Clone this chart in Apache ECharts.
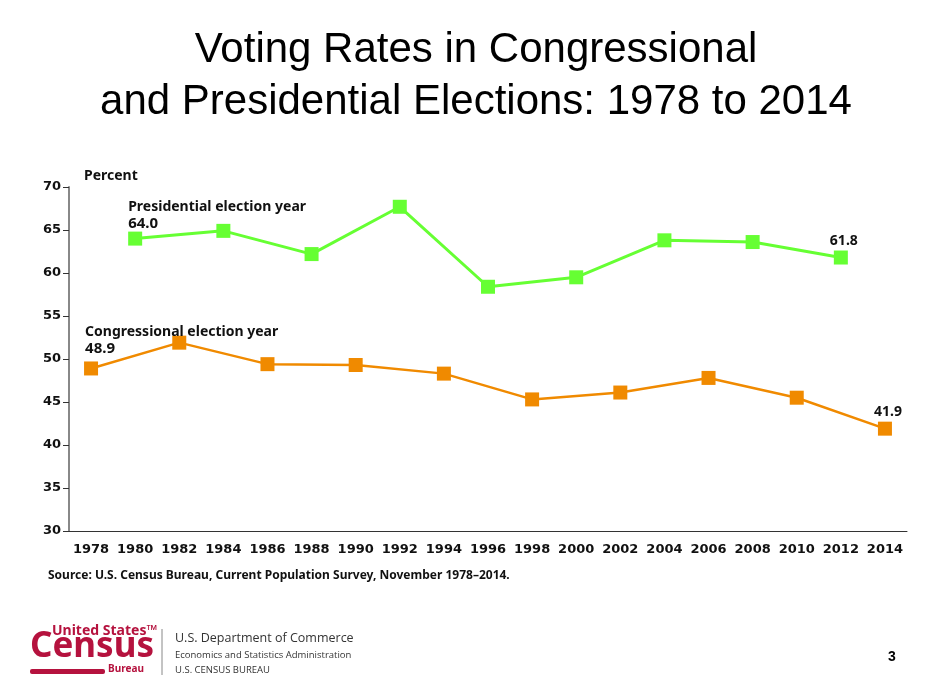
<!DOCTYPE html>
<html><head><meta charset="utf-8">
<script src="https://cdn.jsdelivr.net/npm/echarts@6/dist/echarts.min.js"></script>
<style>html,body{margin:0;padding:0;background:#fff}#c{width:952px;height:692px}</style>
</head><body><div id="c"></div>
<script>
var years = ['1978','1980','1982','1984','1986','1988','1990','1992','1994','1996','1998','2000','2002','2004','2006','2008','2010','2012','2014'];
var presidential = [null,64.0,null,64.9,null,62.2,null,67.7,null,58.4,null,59.5,null,63.8,null,63.6,null,61.8,null];
var congressional = [48.9,null,51.9,null,49.4,null,49.3,null,48.3,null,45.3,null,46.1,null,47.8,null,45.5,null,41.9];
var yTicks = [30,35,40,45,50,55,60,65,70];

var F = '"Noto Sans", sans-serif';
var D = '"DejaVu Sans", Verdana, sans-serif';
var chart = echarts.init(document.getElementById('c'));

function lab(arr, firstText, firstIdx, lastIdx, offs, dist) {
  return arr.map(function(v, i){
    if (v === null) return null;
    if (i === firstIdx) return {value: v, label: {show: true, position: 'top', align: 'left', offset: offs, distance: dist,
      formatter: firstText + '\n{b|' + v.toFixed(1) + '}',
      rich: {b: {fontFamily: F, fontWeight: 'bold', fontSize: 15, color: '#111', lineHeight: 17}}}};
    if (i === lastIdx) return {value: v, label: {show: true, position: 'top', distance: 1, offset: [3, 0], formatter: v.toFixed(1)}};
    return v;
  });
}

chart.setOption({
  animation: false,
  textStyle: {fontFamily: F},
  grid: {left: 69, right: 45, top: 187, bottom: 161},
  graphic: [
    {type: 'text', left: 'center', top: 24, style: {text: 'Voting Rates in Congressional\nand Presidential Elections: 1978 to 2014', fontFamily: '"Liberation Sans", Arial, sans-serif', fontSize: 42, lineHeight: 52, textAlign: 'center', fill: '#000'}},
    {type: 'text', left: 84, top: 169, style: {text: 'Percent', fontFamily: F, fontWeight: 'bold', fontSize: 14, fill: '#111'}},
    {type: 'text', left: 48, top: 570, style: {text: 'Source: U.S. Census Bureau, Current Population Survey, November 1978\u20132014.', fontFamily: F, fontWeight: 'bold', fontSize: 12, fill: '#111'}},
    {type: 'text', left: 52, top: 624, style: {text: 'United States\u2122', fontFamily: F, fontWeight: 'bold', fontSize: 14, fill: '#b5123e'}},
    {type: 'text', left: 30, top: 630, style: {text: 'Census', fontFamily: F, fontWeight: 'bold', fontSize: 35, fill: '#b5123e'}},
    {type: 'rect', shape: {x: 30, y: 669, width: 75, height: 5, r: 2}, style: {fill: '#b5123e'}},
    {type: 'text', left: 108, top: 664, style: {text: 'Bureau', fontFamily: F, fontWeight: 'bold', fontSize: 10, fill: '#b5123e'}},
    {type: 'line', shape: {x1: 162, y1: 629, x2: 162, y2: 675}, style: {stroke: '#888', lineWidth: 1}},
    {type: 'text', left: 175, top: 632, style: {text: 'U.S. Department of Commerce', fontFamily: '"Open Sans", sans-serif', fontSize: 12.5, fill: '#333'}},
    {type: 'text', left: 175, top: 650, style: {text: 'Economics and Statistics Administration', fontFamily: '"Open Sans", sans-serif', fontSize: 9.5, fill: '#333'}},
    {type: 'text', left: 175, top: 665, style: {text: 'U.S. CENSUS BUREAU', fontFamily: '"Open Sans", sans-serif', fontSize: 9.5, fill: '#333'}},
    {type: 'text', left: 888, top: 650, style: {text: '3', fontFamily: '"Liberation Sans", Arial, sans-serif', fontWeight: 'bold', fontSize: 14, fill: '#000'}}
  ],
  xAxis: {
    type: 'category', data: years, boundaryGap: true,
    axisLine: {lineStyle: {color: '#333', width: 1}},
    axisTick: {inside: true, length: 7, alignWithLabel: true, lineStyle: {color: '#333'}},
    axisLabel: {interval: 0, fontFamily: D, fontWeight: 'bold', fontSize: 13, color: '#111', margin: 12}
  },
  yAxis: {
    type: 'value', min: 30, max: 70, interval: 5,
    axisLine: {show: true, lineStyle: {color: '#888', width: 2}},
    axisTick: {show: true, length: 6, lineStyle: {color: '#333'}},
    splitLine: {show: false},
    axisLabel: {fontFamily: D, fontWeight: 'bold', fontSize: 13, color: '#111', margin: 8,
      formatter: function(v){ return yTicks.indexOf(v) >= 0 ? String(v) : ''; }}
  },
  series: [
    {name: 'Presidential election year', type: 'line', connectNulls: true,
     data: lab(presidential, 'Presidential election year', 1, 17, [-7, 0], -1),
     symbol: 'rect', symbolSize: 14, itemStyle: {color: '#66ff33'}, lineStyle: {color: '#66ff33', width: 3},
     label: {fontFamily: F, fontWeight: 'bold', fontSize: 14, color: '#111', lineHeight: 17}},
    {name: 'Congressional election year', type: 'line', connectNulls: true,
     data: lab(congressional, 'Congressional election year', 0, 18, [-6, 0], 4),
     symbol: 'rect', symbolSize: 14, itemStyle: {color: '#f08a00'}, lineStyle: {color: '#f08a00', width: 2.5},
     label: {fontFamily: F, fontWeight: 'bold', fontSize: 14, color: '#111', lineHeight: 17}}
  ]
});
</script></body></html>
